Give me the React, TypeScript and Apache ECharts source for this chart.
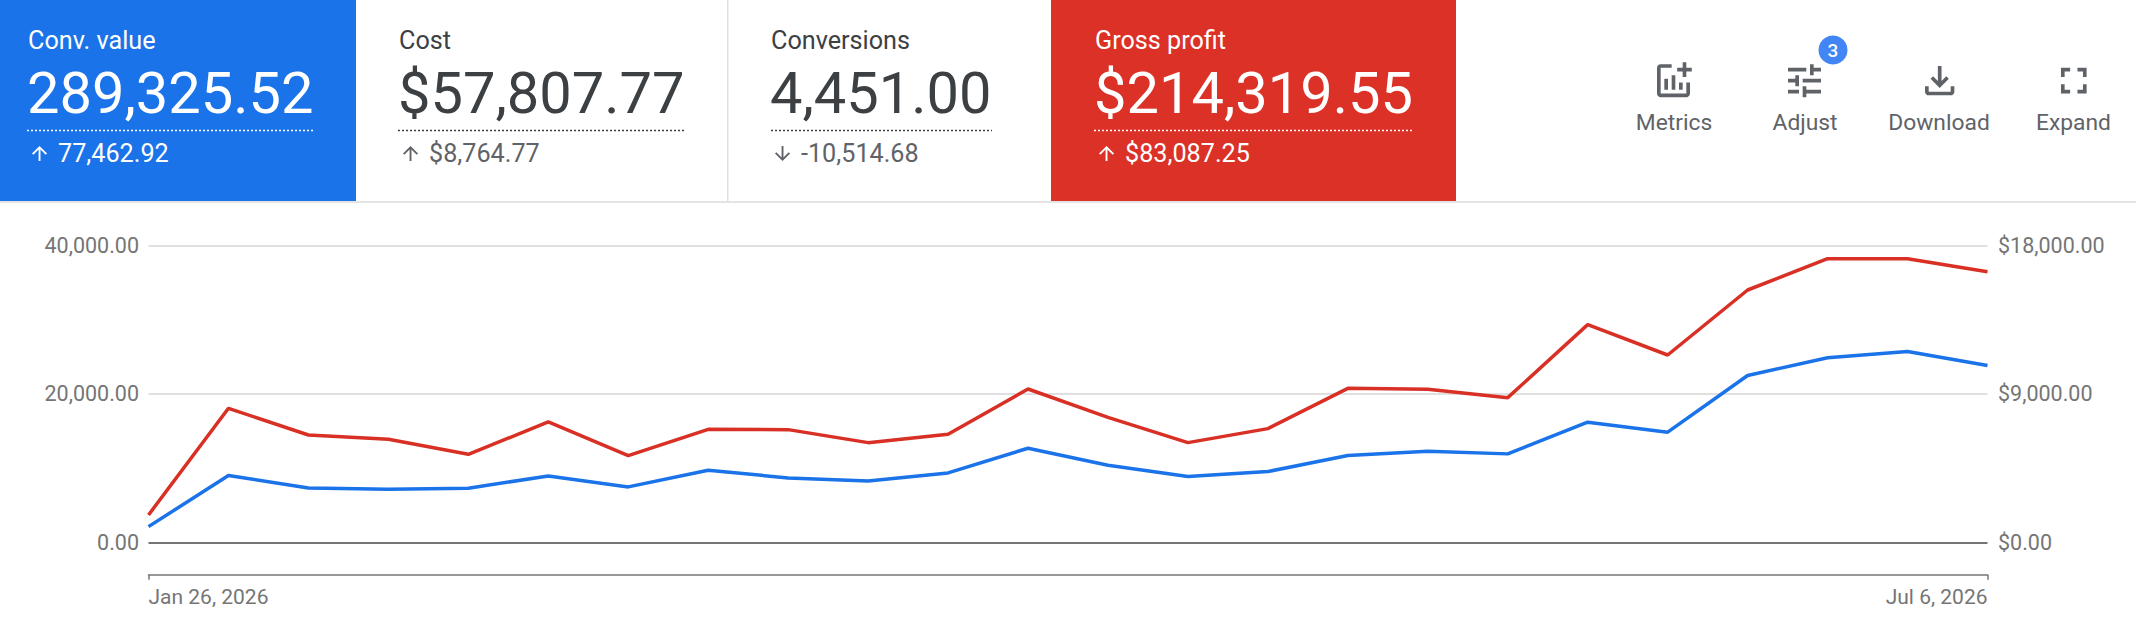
import React, { useEffect, useRef } from "react";
import * as echarts from "echarts";

const weeks = ["Jan 26, 2026","Feb 2, 2026","Feb 9, 2026","Feb 16, 2026","Feb 23, 2026","Mar 2, 2026","Mar 9, 2026","Mar 16, 2026","Mar 23, 2026","Mar 30, 2026","Apr 6, 2026","Apr 13, 2026","Apr 20, 2026","Apr 27, 2026","May 4, 2026","May 11, 2026","May 18, 2026","May 25, 2026","Jun 1, 2026","Jun 8, 2026","Jun 15, 2026","Jun 22, 2026","Jun 29, 2026","Jul 6, 2026"];
const convValue = [2112,8988,7325,7145,7280,8943,7460,9707,8673,8269,9348,12673,10381,8853,9527,11684,12269,11909,16178,14830,22470,24852,25706,23818];
const grossProfit = [1656,8120,6504,6242,5333,7292,5252,6848,6828,6040,6545,9292,7575,6040,6888,9332,9272,8767,13190,11352,15291,17190,17190,16402];

const cardTitles = ["Conv. value","Cost","Conversions","Gross profit"];
const cardValues = ["289,325.52","$57,807.77","4,451.00","$214,319.55"];
const cardDeltas = ["77,462.92","$8,764.77","-10,514.68","$83,087.25"];
const cardUp = [true,true,false,true];
const cardX = [28,399,771,1095];
const dotX = [[27,313],[398,684],[771,992],[1094,1412]];
const toolLabels = ["Metrics","Adjust","Download","Expand"];
const toolX = [1674,1805,1939,2073.5];
const iconX = [1651.5,1782.5,1917.7,2051.8];

const BLUE = "#1a73e8";
const RED = "#d93025";
const DARK = "#3c4043";
const GREY = "#5f6368";
const FONT = "Roboto";

const icons: Record<string,string> = {
  i0: "M22 5v2h-3v3h-2V7h-3V5h3V2h2v3h3zm-3 14H5V5h6V3H5c-1.1 0-2 .9-2 2v14c0 1.1.9 2 2 2h14c1.1 0 2-.9 2-2v-6h-2v6zm-4-6v4h2v-4h-2zm-4 4h2V9h-2v8zm-2 0v-6H7v6h2z",
  i1: "M3 17v2h6v-2H3zM3 5v2h10V5H3zm10 16v-2h8v-2h-8v-2h-2v6h2zM7 9v2H3v2h4v2h2V9H7zm14 4v-2H11v2h10zm-6-4h2V7h4V5h-4V3h-2v6z",
  i2: "M18 15v3H6v-3H4v3c0 1.1.9 2 2 2h12c1.1 0 2-.9 2-2v-3h-2zm-1-4l-1.41-1.41L13 12.17V4h-2v8.17L8.41 9.59 7 11l5 5 5-5z",
  i3: "M7 14H5v5h5v-2H7v-3zm-2-4h2V7h3V5H5v5zm12 7h-3v2h5v-5h-2v3zM14 5v2h3v3h2V5h-5z",
  up: "M4 12l1.41 1.41L11 7.83V20h2V7.83l5.58 5.59L20 12l-8-8-8 8z",
  down: "M20 12l-1.41-1.41L13 16.17V4h-2v12.17l-5.58-5.59L4 12l8 8 8-8z",
};
Object.keys(icons).forEach((k) => {
  echarts.graphic.registerShape("ic_" + k, echarts.graphic.extendPath(icons[k], {}) as any);
});

function money(v: number, prefix: string) {
  return prefix + v.toLocaleString("en-US", { minimumFractionDigits: 2, maximumFractionDigits: 2 });
}

function buildGraphic() {
  const g: any[] = [];
  const txt = (x: number, y: number, text: string, size: number, fill: string, align = "left", weight = 400) => ({
    type: "text", x, y, z: 10,
    style: { text, fontSize: size, fontWeight: weight, fontFamily: FONT, fill, align, verticalAlign: "middle" },
  });
  g.push({ type: "rect", shape: { x: 0, y: 0, width: 356, height: 201 }, style: { fill: BLUE }, z: 1 });
  g.push({ type: "rect", shape: { x: 1051, y: 0, width: 405, height: 201 }, style: { fill: "#dc3126" }, z: 1 });
  g.push({ type: "rect", shape: { x: 0, y: 201, width: 2136, height: 2 }, style: { fill: "#e4e4e4" }, z: 1 });
  g.push({ type: "rect", shape: { x: 727, y: 0, width: 1.5, height: 201 }, style: { fill: "#e0e0e0" }, z: 1 });
  cardTitles.forEach((t, i) => {
    const light = i === 0 || i === 3;
    g.push(txt(cardX[i], 40, t, 25.2, light ? "#ffffff" : DARK));
    g.push(txt(cardX[i] - 1, 92.5, cardValues[i], 57.8, light ? "#ffffff" : DARK));
    g.push({ type: "line", z: 10, shape: { x1: dotX[i][0], y1: 130.5, x2: dotX[i][1], y2: 130.5 }, style: { stroke: light ? "#ffffff" : "#3c4043", lineWidth: 1.5, lineDash: [2, 2] } });
    g.push(txt(cardX[i] + 30, 153, cardDeltas[i], 25.2, light ? "#ffffff" : GREY));
    g.push({ type: "ic_" + (cardUp[i] ? "up" : "down"), x: cardX[i] + 0.25, y: 142.25, scaleX: 0.94, scaleY: 0.94, z: 10, style: { fill: light ? "#ffffff" : GREY } });
  });
  toolLabels.forEach((t, i) => {
    g.push(txt(toolX[i], 122, t, 22.8, GREY, "center"));
    g.push({ type: "ic_i" + i, x: iconX[i], y: 58.7, scaleX: 1.833, scaleY: 1.833, z: 10, style: { fill: GREY } });
  });
  g.push({ type: "circle", shape: { cx: 1833, cy: 50, r: 14.5 }, style: { fill: "#4285f4" }, z: 10 });
  g.push(txt(1833, 50, "3", 19, "#ffffff", "center", 500));
  return g;
}

export default function App() {
  const ref = useRef<HTMLDivElement>(null);
  useEffect(() => {
    document.body.style.margin = "0";
    const chart = echarts.init(ref.current!, undefined, { renderer: "svg" });
    const ends = (i: number) => i === 0 || i === weeks.length - 1;
    chart.setOption({
      animation: false,
      backgroundColor: "#ffffff",
      textStyle: { fontFamily: FONT },
      grid: { left: 148.5, right: 148.5, top: 245.3, height: 297, containLabel: false },
      graphic: buildGraphic(),
      xAxis: {
        type: "category",
        data: weeks,
        boundaryGap: false,
        offset: 32.4,
        axisLine: { onZero: false, lineStyle: { color: "#757575", width: 1.5 } },
        axisTick: { show: true, length: 5, interval: (i: number) => ends(i), lineStyle: { color: "#757575", width: 1.5 } },
        axisLabel: {
          interval: (i: number) => ends(i),
          alignMinLabel: "left",
          alignMaxLabel: "right",
          showMinLabel: true,
          showMaxLabel: true,
          color: "#757575",
          fontSize: 21,
          fontFamily: FONT,
          margin: 12,
        },
        splitLine: { show: false },
      },
      yAxis: [
        {
          type: "value", min: 0, max: 40000, interval: 20000,
          axisLine: { show: false }, axisTick: { show: false },
          axisLabel: { color: "#757575", fontSize: 21.5, fontFamily: FONT, margin: 9.5, formatter: (v: number) => money(v, "") },
          splitLine: { show: true, lineStyle: { color: ["#757575", "#e0e0e0", "#e0e0e0"], width: 2 } },
        },
        {
          type: "value", min: 0, max: 18000, interval: 9000,
          axisLine: { show: false }, axisTick: { show: false },
          axisLabel: { color: "#757575", fontSize: 21.5, fontFamily: FONT, margin: 10.5, formatter: (v: number) => money(v, "$") },
          splitLine: { show: false },
        },
      ],
      series: [
        { name: "Conv. value", type: "line", yAxisIndex: 0, data: convValue, symbol: "none", lineStyle: { color: BLUE, width: 3.5 }, itemStyle: { color: BLUE } },
        { name: "Gross profit", type: "line", yAxisIndex: 1, data: grossProfit, symbol: "none", lineStyle: { color: RED, width: 3.5 }, itemStyle: { color: RED } },
      ],
    });
    return () => chart.dispose();
  }, []);
  return <div ref={ref} style={{ width: 2136, height: 628 }} />;
}
